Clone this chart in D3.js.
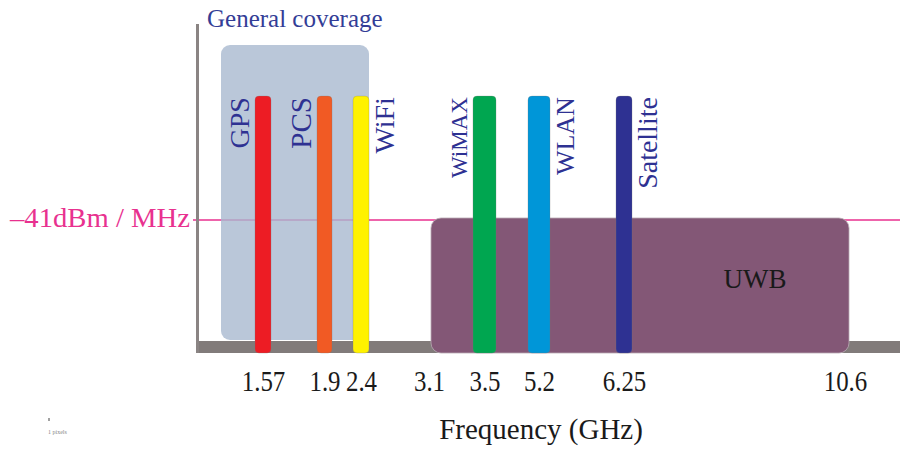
<!DOCTYPE html>
<html>
<head>
<meta charset="utf-8">
<script src="https://cdn.jsdelivr.net/npm/d3@7"></script>
<style>
  body { margin: 0; background: #fff; }
  svg { display: block; font-family: "Liberation Serif", "DejaVu Serif", serif; }
</style>
</head>
<body>
<div id="chart"></div>
<script>
const width = 900;
const height = 451;

// frequency ticks (GHz) - the picture is a schematic, spacing is not linear
const tickValues = [1.57, 1.9, 2.4, 3.1, 3.5, 5.2, 6.25, 10.6];
const tickPos = [263, 324.5, 361, 429, 484.5, 539, 624, 845];

// narrowband services
const bandNames = ["GPS", "PCS", "WiFi", "WiMAX", "WLAN", "Satellite"];
const bandFreqs = [1.57, 1.9, 2.4, 3.5, 5.2, 6.25];
const bandSide = ["left", "left", "right", "left", "right", "right"];
const bandLevel = -23.3; // schematic power level of the narrowband bars (dBm/MHz)

// UWB mask
const uwbRange = [3.1, 10.6];
const uwbLimit = -41; // dBm / MHz
const floorLevel = -60;
const axisTop = -13;
const coverageTop = -16;

// styles
const bandColor = { GPS: "#ed1c24", PCS: "#f15a24", WiFi: "#fff200", WiMAX: "#00a650", WLAN: "#0096d8", Satellite: "#2e3192" };
const bandWidth = { GPS: 16, PCS: 15, WiFi: 16, WiMAX: 23, WLAN: 22, Satellite: 16 };
const labelSize = { GPS: 28, PCS: 29, WiFi: 28, WiMAX: 23, WLAN: 26, Satellite: 28 };
const navy = "#2e3192";
const pink = "#e8318f";
const gray = "#817b7a";

const x = d3.scaleLinear().domain(tickValues).range(tickPos);
const y = d3.scaleLinear().domain([floorLevel, axisTop]).range([353, 24]);

const svg = d3.select("#chart").append("svg")
  .attr("width", width)
  .attr("height", height);

const bands = bandNames.map((name, i) => ({ name, freq: bandFreqs[i], side: bandSide[i] }));

// -41 dBm/MHz line
svg.append("line")
  .attr("x1", 193).attr("x2", width)
  .attr("y1", y(uwbLimit)).attr("y2", y(uwbLimit))
  .attr("stroke", pink).attr("stroke-width", 1.6);

svg.append("text")
  .attr("x", 190).attr("y", y(uwbLimit) + 7)
  .attr("text-anchor", "end")
  .attr("font-size", 27)
  .attr("fill", pink)
  .attr("textLength", 180)
  .attr("lengthAdjust", "spacingAndGlyphs")
  .text("\u201341dBm / MHz");

// floor strip and vertical axis
svg.append("rect")
  .attr("x", 196).attr("y", y(floorLevel) - 12)
  .attr("width", width - 196).attr("height", 12)
  .attr("fill", gray);

svg.append("rect")
  .attr("x", 196).attr("y", y(axisTop))
  .attr("width", 3).attr("height", y(floorLevel) - y(axisTop))
  .attr("fill", "#8a8483");

// general coverage box
const covL = x(bandFreqs[0]) - 42;
const covR = x(bandFreqs[2]) + bandWidth.WiFi / 2;
svg.append("rect")
  .attr("x", covL).attr("y", y(coverageTop))
  .attr("width", covR - covL).attr("height", y(floorLevel) - 13 - y(coverageTop))
  .attr("rx", 9)
  .attr("fill", "#a9b9cf").attr("fill-opacity", 0.8);

svg.append("text")
  .attr("x", 207).attr("y", 27)
  .attr("font-size", 25)
  .attr("fill", "#333d96")
  .text("General coverage");

// UWB box
const uL = x(uwbRange[0]) + 2;
const uR = x(uwbRange[1]) + 4;
svg.append("rect")
  .attr("x", uL).attr("y", y(uwbLimit) - 2)
  .attr("width", uR - uL).attr("height", y(floorLevel) - y(uwbLimit) + 2)
  .attr("rx", 10)
  .attr("fill", "#835776")
  .attr("stroke", "#b9aab4").attr("stroke-width", 0.8);

svg.append("text")
  .attr("x", uL + 0.775 * (uR - uL)).attr("y", 288)
  .attr("text-anchor", "middle")
  .attr("font-size", 27)
  .attr("fill", "#1a1a1a")
  .text("UWB");

// narrowband bars
svg.append("g").selectAll("rect")
  .data(bands)
  .join("rect")
    .attr("x", d => x(d.freq) - bandWidth[d.name] / 2)
    .attr("y", y(bandLevel))
    .attr("width", d => bandWidth[d.name])
    .attr("height", y(floorLevel) - y(bandLevel))
    .attr("rx", 4)
    .attr("fill", d => bandColor[d.name])
    .attr("stroke", "rgba(120,120,120,0.35)").attr("stroke-width", 0.8);

// rotated service labels
svg.append("g").selectAll("text")
  .data(bands)
  .join("text")
    .attr("transform", d => {
      const half = bandWidth[d.name] / 2;
      const bx = d.side === "left"
        ? x(d.freq) - half - 6
        : x(d.freq) + half + 6 + 0.68 * labelSize[d.name];
      return `translate(${bx},${y(bandLevel) + 1}) rotate(-90)`;
    })
    .attr("text-anchor", "end")
    .attr("font-size", d => labelSize[d.name])
    .attr("fill", navy)
    .text(d => d.name);

// frequency axis
const xAxis = d3.axisBottom(x)
  .tickValues(tickValues)
  .tickFormat(d => String(d))
  .tickSize(0);

svg.append("g")
  .attr("transform", `translate(0,${y(floorLevel)})`)
  .call(xAxis)
  .call(g => g.select(".domain").remove())
  .call(g => g.selectAll("text")
    .attr("y", 38).attr("dy", null)
    .attr("transform", "scale(0.83,1)")
    .attr("font-family", "Liberation Serif, serif")
    .attr("font-size", 30)
    .attr("fill", "#1a1a1a"));

svg.append("text")
  .attr("x", 541).attr("y", 439)
  .attr("text-anchor", "middle")
  .attr("font-size", 29)
  .attr("fill", "#1a1a1a")
  .text("Frequency (GHz)");

// stray scale marker left in the source image
svg.append("rect").attr("x", 48.5).attr("y", 418).attr("width", 1).attr("height", 3).attr("fill", "#444");
svg.append("text")
  .attr("x", 48).attr("y", 434)
  .attr("font-size", 6)
  .attr("fill", "#888")
  .text("1 pixels");
</script>
</body>
</html>
